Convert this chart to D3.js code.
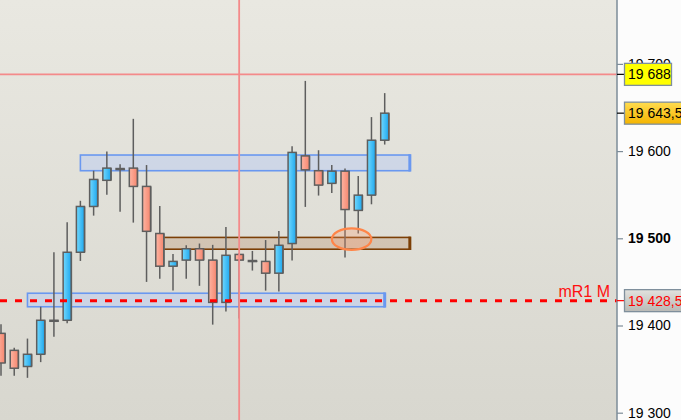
<!DOCTYPE html>
<html>
<head>
<meta charset="utf-8">
<script src="https://cdn.jsdelivr.net/npm/d3@7"></script>
<style>
  body { margin: 0; background: #fcfcfc; }
  svg { display: block; font-family: "Liberation Sans", Arial, sans-serif; }
</style>
</head>
<body>
<svg id="chart" width="681" height="420"></svg>
<script>
// OHLC, oldest first
const opens  = [19391, 19371.5, 19353, 19367, 19406, 19406, 19484, 19536.5, 19566.5, 19580, 19580.5, 19559.5, 19505.5, 19468, 19475, 19488, 19475, 19426.5, 19481.5, 19474.5, 19473.5, 19460, 19494, 19594.5, 19577.5, 19563, 19577, 19532, 19549.5, 19612.5]
const highs  = [19401.5, 19374.5, 19385, 19421.5, 19484, 19518.5, 19543, 19577.5, 19599.5, 19585, 19637, 19584, 19537, 19482, 19492, 19494, 19492.5, 19513, 19483, 19485.5, 19498, 19508.5, 19605.5, 19680.5, 19601, 19584, 19580, 19571.5, 19639, 19666.5]
const lows   = [19342.5, 19342.5, 19340, 19358, 19387, 19402.5, 19474, 19526, 19550, 19530.5, 19518, 19450, 19453.5, 19440, 19453.5, 19445.5, 19401, 19416, 19408, 19463, 19440, 19439, 19474.5, 19536, 19549, 19552, 19478, 19505.5, 19539, 19607.5]
const closes = [19357, 19351, 19367, 19406, 19405.5, 19484, 19536.5, 19567.5, 19580.5, 19580, 19559.5, 19508, 19468, 19473.5, 19488, 19475, 19426.5, 19480.5, 19475, 19474.5, 19460, 19492, 19598.5, 19578.5, 19561, 19577, 19533, 19549.5, 19612.5, 19643.5]

const tickValues = [19300, 19400, 19500, 19600, 19700]
const boldTick = 19500

// drawn zones: [from candle, to candle, low, high]
const blueZones = [[6, 30.9, 19577.5, 19595.5], [2, 29, 19421.5, 19437]]
const brownZones = [[12, 30.9, 19487.5, 19501]]
const ellipseMark = [26.5, 19499, 1.49, 12.4] // candle, price, half width (candles), half height (points)

const crossCandle = 18
const crossPrice = 19688
const lastPrice = 19643.5
const levelPrice = 19428.5
const levelName = 'mR1 M'

const svg = d3.select('#chart')
const width = +svg.attr('width')
const height = +svg.attr('height')
const axisX = 617

const locale = d3.formatLocale({ decimal: ',', thousands: ' ', grouping: [3], currency: ['', ''] })
const fmt = locale.format(',')

const xScale = d3.scaleLinear().domain([0, opens.length - 1]).range([1, 384.7])
const yScale = d3.scaleLinear().domain([19300, 19700]).range([412.7, 63.9])
const step = xScale(1) - xScale(0)
const bodyW = 8

// gradients
const defs = svg.append('defs')
const bg = defs.append('linearGradient').attr('id', 'bg').attr('x1', 0).attr('y1', 0).attr('x2', 0).attr('y2', 1)
bg.append('stop').attr('offset', 0).attr('stop-color', '#e9e8e1')
bg.append('stop').attr('offset', 1).attr('stop-color', '#d8d7cf')

const bull = defs.append('linearGradient').attr('id', 'bull')
bull.append('stop').attr('offset', 0).attr('stop-color', '#72d8fd')
bull.append('stop').attr('offset', 1).attr('stop-color', '#1ea8ef')

const bear = defs.append('linearGradient').attr('id', 'bear')
bear.append('stop').attr('offset', 0).attr('stop-color', '#fdb5a3')
bear.append('stop').attr('offset', 1).attr('stop-color', '#f6866e')

const gold = defs.append('linearGradient').attr('id', 'gold').attr('x1', 0).attr('y1', 0).attr('x2', 0).attr('y2', 1)
gold.append('stop').attr('offset', 0).attr('stop-color', '#ffdc50')
gold.append('stop').attr('offset', 1).attr('stop-color', '#f5b400')

const grey = defs.append('linearGradient').attr('id', 'grey').attr('x1', 0).attr('y1', 0).attr('x2', 0).attr('y2', 1)
grey.append('stop').attr('offset', 0).attr('stop-color', '#e2e2de')
grey.append('stop').attr('offset', 1).attr('stop-color', '#b9b9b5')

// plot background
svg.append('rect')
  .attr('x', 0).attr('y', 0)
  .attr('width', axisX).attr('height', height)
  .attr('fill', 'url(#bg)')

// zones, each with a heavier right edge
const drawZones = (zones, fill, stroke) => {
  const zg = svg.append('g')
  zg.selectAll('rect')
    .data(zones)
    .enter()
    .append('rect')
    .attr('x', d => xScale(d[0]))
    .attr('y', d => yScale(d[3]))
    .attr('width', d => xScale(d[1]) - xScale(d[0]))
    .attr('height', d => yScale(d[2]) - yScale(d[3]))
    .attr('fill', fill)
    .attr('stroke', stroke)
    .attr('stroke-width', 1.6)
  zg.selectAll('line')
    .data(zones)
    .enter()
    .append('line')
    .attr('x1', d => xScale(d[1])).attr('x2', d => xScale(d[1]))
    .attr('y1', d => yScale(d[3]) - 0.8).attr('y2', d => yScale(d[2]) + 0.8)
    .attr('stroke', stroke)
    .attr('stroke-width', 3)
}
drawZones(blueZones, 'rgba(190, 205, 240, 0.55)', '#6a98f0')
drawZones(brownZones, 'rgba(185, 150, 115, 0.35)', '#7c3f06')

// candles
const candles = opens.map((o, i) => ({ i, o, h: highs[i], l: lows[i], c: closes[i] }))

const g = svg.append('g')
g.selectAll('.wick')
  .data(candles)
  .enter()
  .append('line')
  .attr('x1', d => xScale(d.i)).attr('x2', d => xScale(d.i))
  .attr('y1', d => yScale(d.h)).attr('y2', d => yScale(d.l))
  .attr('stroke', '#5e5e5e')
  .attr('stroke-width', 1.5)

// shadow on the right side of each body
g.selectAll('.shadow')
  .data(candles)
  .enter()
  .append('rect')
  .attr('x', d => xScale(d.i) - bodyW / 2 + 1)
  .attr('y', d => yScale(Math.max(d.o, d.c)))
  .attr('width', bodyW)
  .attr('height', d => Math.max(1.5, Math.abs(yScale(d.o) - yScale(d.c))))
  .attr('fill', '#6a6a6a')

g.selectAll('.body')
  .data(candles)
  .enter()
  .append('rect')
  .attr('x', d => xScale(d.i) - bodyW / 2)
  .attr('y', d => yScale(Math.max(d.o, d.c)))
  .attr('width', bodyW)
  .attr('height', d => Math.max(1, Math.abs(yScale(d.o) - yScale(d.c))))
  .attr('fill', d => Math.abs(d.c - d.o) < 1 ? '#5e5e5e' : (d.c > d.o ? 'url(#bull)' : 'url(#bear)'))
  .attr('stroke', '#5e5e5e')
  .attr('stroke-width', 1.5)

// ellipse mark
svg.append('ellipse')
  .attr('cx', xScale(ellipseMark[0]))
  .attr('cy', yScale(ellipseMark[1]))
  .attr('rx', ellipseMark[2] * step)
  .attr('ry', yScale(ellipseMark[1] - ellipseMark[3]) - yScale(ellipseMark[1]))
  .attr('fill', 'rgba(255, 150, 100, 0.28)')
  .attr('stroke', '#ff8548')
  .attr('stroke-width', 2.2)

// level line
svg.append('line')
  .attr('x1', 0).attr('x2', axisX)
  .attr('y1', yScale(levelPrice)).attr('y2', yScale(levelPrice))
  .attr('stroke', '#ff0000')
  .attr('stroke-width', 3)
  .attr('stroke-dasharray', '7 8')

svg.append('text')
  .attr('x', axisX - 7)
  .attr('y', yScale(levelPrice) - 4)
  .attr('text-anchor', 'end')
  .attr('fill', '#ff1010')
  .style('font-size', '16px')
  .text(levelName)

// crosshair
svg.append('line')
  .attr('x1', xScale(crossCandle)).attr('x2', xScale(crossCandle))
  .attr('y1', 0).attr('y2', height)
  .attr('stroke', '#f48a8a')
  .attr('stroke-width', 1.8)

svg.append('line')
  .attr('x1', 0).attr('x2', axisX)
  .attr('y1', yScale(crossPrice)).attr('y2', yScale(crossPrice))
  .attr('stroke', '#f48a8a')
  .attr('stroke-width', 1.8)

// price axis
svg.append('rect')
  .attr('x', axisX).attr('y', 0)
  .attr('width', width - axisX).attr('height', height)
  .attr('fill', '#fcfcfc')

const yAxis = svg.append('g')
  .attr('transform', `translate(${axisX}, 0)`)
  .call(d3.axisRight(yScale)
    .tickValues(tickValues)
    .tickSize(6)
    .tickPadding(5)
    .tickFormat(fmt))

yAxis.select('path.domain').remove()
yAxis.selectAll('.tick line').attr('stroke', '#7d8c98').attr('stroke-width', 1.2)
yAxis.selectAll('.tick text')
  .attr('fill', '#000')
  .style('font-size', '14px')
  .style('font-family', '"Liberation Sans", Arial, sans-serif')
  .style('font-weight', d => d === boldTick ? 'bold' : 'normal')

svg.append('line')
  .attr('x1', axisX).attr('x2', axisX)
  .attr('y1', 0).attr('y2', height)
  .attr('stroke', '#7d8c98')
  .attr('stroke-width', 1.5)

// price labels on the axis
const labels = [
  { v: crossPrice, fill: '#ffff00', text: '#000', w: 47, tick: '#000' },
  { v: lastPrice, fill: 'url(#gold)', text: '#000', w: 70, tick: '#000' },
  { v: levelPrice, fill: 'url(#grey)', text: '#ff0000', w: 70, tick: '#ff0000' }
]

labels.forEach(d => {
  const y = yScale(d.v)
  svg.append('line')
    .attr('x1', axisX).attr('x2', axisX + 8)
    .attr('y1', y).attr('y2', y)
    .attr('stroke', d.tick)
    .attr('stroke-width', 1.2)
  svg.append('rect')
    .attr('x', axisX + 7.5).attr('y', y - 11)
    .attr('width', d.w).attr('height', 22)
    .attr('fill', d.fill)
    .attr('stroke', '#7f8f9c')
    .attr('stroke-width', 1.3)
  svg.append('text')
    .attr('x', axisX + 11)
    .attr('y', y)
    .attr('dy', '0.36em')
    .attr('fill', d.text)
    .style('font-size', '14px')
    .text(fmt(d.v))
})
</script>
</body>
</html>
